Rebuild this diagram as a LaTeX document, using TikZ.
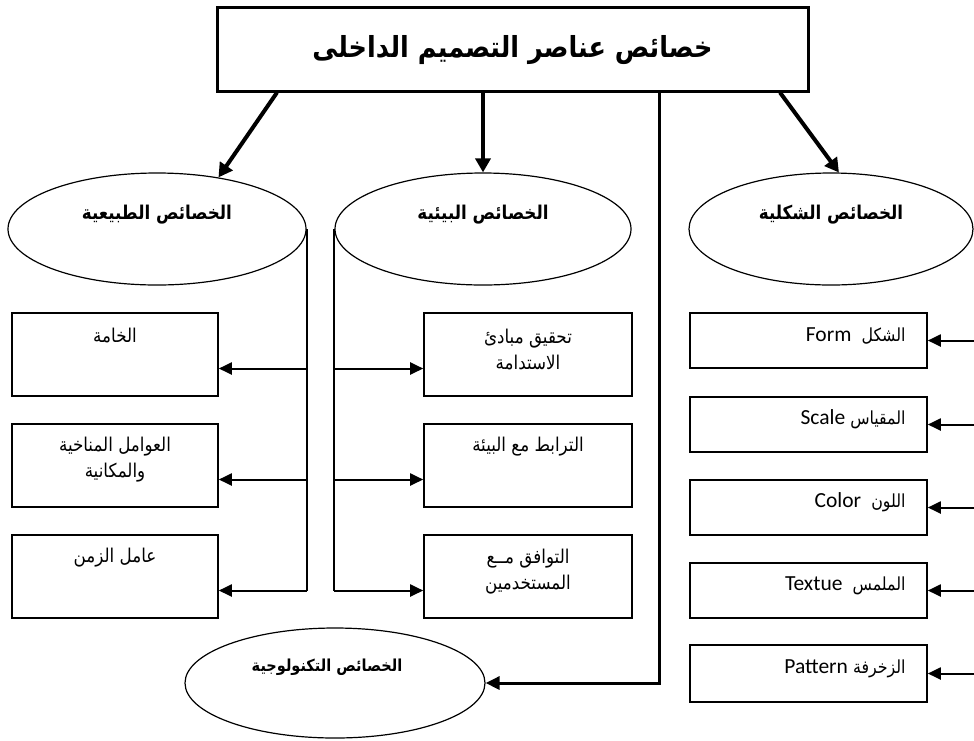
\documentclass[tikz,border=0pt]{standalone}
\usepackage{fontspec}
\usetikzlibrary{arrows.meta,shapes.geometric}
\TeXXeTstate=1
\newfontfamily\arfont[Script=Arabic,FakeStretch=0.88]{DejaVu Sans}
\newfontfamily\latfont{Carlito}
\begin{document}
\begin{tikzpicture}[x=1pt,y=-1pt,
  titlebox/.style={draw, line width=3pt, minimum width=591pt, minimum height=84pt, inner sep=0pt},
  oval/.style={draw, ellipse, line width=1.2pt, inner sep=0pt},
  itembox/.style={draw, line width=1.6pt, inner sep=0pt},
  artext/.style={font=\arfont\fontsize{19}{26}\selectfont, align=center, inner sep=0pt},
  rtext/.style={font=\arfont\fontsize{18}{20}\selectfont, inner sep=0pt, anchor=east},
  lat/.style={},
  ovaltext/.style={font=\arfont\bfseries\fontsize{19}{22}\selectfont, inner sep=0pt},
  bigarrow/.style={line width=4pt, -{Triangle[length=14pt,width=15pt]}},
  branch/.style={line width=2pt, -{Triangle[length=13pt,width=12pt]}},
  trunk/.style={line width=2pt},
  techline/.style={line width=3pt, -{Triangle[length=14pt,width=13pt]}},
]
\newcommand\latw[1]{{\latfont\fontsize{21.5}{22}\selectfont\beginL #1\endL}}
\useasboundingbox (0,0) rectangle (974,740);

% title
\node[titlebox] (T) at (512.5,49) {};
\node[font=\arfont\bfseries\fontsize{29}{32}\selectfont, inner sep=0pt] (Tt) at (512.5,50) {\beginR خصائص عناصر التصميم الداخلى\endR};

% ellipses
\node[oval, minimum width=298pt, minimum height=112pt] (E1) at (157,229) {};
\node[oval, minimum width=296pt, minimum height=112pt] (E2) at (483,229) {};
\node[oval, minimum width=284pt, minimum height=112pt] (E3) at (831,229) {};
\node[oval, minimum width=300pt, minimum height=110pt] (E4) at (335,683) {};
\node[ovaltext] (E1t) at (157,215) {\beginR الخصائص الطبيعية\endR};
\node[ovaltext] (E2t) at (483,215) {\beginR الخصائص البيئية\endR};
\node[ovaltext] (E3t) at (831,215) {\beginR الخصائص الشكلية\endR};
\node[ovaltext, font=\arfont\bfseries\fontsize{16.5}{18}\selectfont] (E4t) at (327,667) {\beginR الخصائص التكنولوجية\endR};

% arrows from title
\coordinate (s1) at ([xshift=-235.5pt]T.south);
\coordinate (s2) at ([xshift=-29.5pt]T.south);
\coordinate (s3) at ([xshift=146.5pt]T.south);
\coordinate (s4) at ([xshift=267.5pt]T.south);
\draw[bigarrow] (s1) -- (E1.40);
\draw[bigarrow] (s2) -- (E2.north);
\draw[bigarrow] (s4) -- (E3.82);
\draw[techline] (s3) |- (E4);

% left boxes
\node[itembox, minimum width=206pt, minimum height=83pt] (L1) at (115,354.5) {};
\node[itembox, minimum width=206pt, minimum height=83pt] (L2) at (115,465.5) {};
\node[itembox, minimum width=206pt, minimum height=83pt] (L3) at (115,576.5) {};
\node[artext] (L1t) at ([yshift=-23pt]L1.north) {\beginR الخامة\endR};
\node[artext] (L2t) at ([yshift=-36pt]L2.north) {\beginR العوامل المناخية\endR\\\beginR والمكانية\endR};
\node[artext] (L3t) at ([yshift=-23pt]L3.north) {\beginR عامل الزمن\endR};

% middle boxes
\node[itembox, minimum width=208pt, minimum height=83pt] (M1) at (528,354.5) {};
\node[itembox, minimum width=208pt, minimum height=83pt] (M2) at (528,465.5) {};
\node[itembox, minimum width=208pt, minimum height=83pt] (M3) at (528,576.5) {};
\node[artext] (M1t) at ([yshift=-37pt]M1.north) {\beginR تحقيق مبادئ\endR\\\beginR الاستدامة\endR};
\node[artext] (M2t) at ([yshift=-23pt]M2.north) {\beginR الترابط مع البيئة\endR};
\node[artext] (M3t) at ([yshift=-37pt]M3.north) {\beginR التوافق مــع\endR\\\beginR المستخدمين\endR};

% trunks and branches
\draw[trunk] (E1.east) -- ([yshift=-14pt]L3.east -| E1.east);
\draw[branch] ([yshift=-14pt]L1.east -| E1.east) -- ([yshift=-14pt]L1.east);
\draw[branch] ([yshift=-14pt]L2.east -| E1.east) -- ([yshift=-14pt]L2.east);
\draw[branch] ([yshift=-14pt]L3.east -| E1.east) -- ([yshift=-14pt]L3.east);

\draw[trunk] (E2.west) -- ([yshift=-14pt]M3.west -| E2.west);
\draw[branch] ([yshift=-14pt]M1.west -| E2.west) -- ([yshift=-14pt]M1.west);
\draw[branch] ([yshift=-14pt]M2.west -| E2.west) -- ([yshift=-14pt]M2.west);
\draw[branch] ([yshift=-14pt]M3.west -| E2.west) -- ([yshift=-14pt]M3.west);

% right boxes
\node[itembox, minimum width=237pt, minimum height=55pt] (R1) at (808.5,340.5) {};
\node[itembox, minimum width=237pt, minimum height=55pt] (R2) at (808.5,424.5) {};
\node[itembox, minimum width=237pt, minimum height=55pt] (R3) at (808.5,507.5) {};
\node[itembox, minimum width=237pt, minimum height=55pt] (R4) at (808.5,590.5) {};
\node[itembox, minimum width=237pt, minimum height=57pt] (R5) at (808.5,673.5) {};
\node[rtext] (R1t) at ([xshift=-22pt,yshift=5pt]R1.east) {\beginR الشكل\ \ \latw{Form}\endR};
\node[rtext] (R2t) at ([xshift=-22pt,yshift=5pt]R2.east) {\beginR المقياس\ \latw{Scale}\endR};
\node[rtext] (R3t) at ([xshift=-22pt,yshift=5pt]R3.east) {\beginR اللون\ \ \latw{Color}\endR};
\node[rtext] (R4t) at ([xshift=-22pt,yshift=5pt]R4.east) {\beginR الملمس\ \ \latw{Textue}\endR};
\node[rtext] (R5t) at ([xshift=-22pt,yshift=5pt]R5.east) {\beginR الزخرفة\ \latw{Pattern}\endR};

\coordinate (edge) at (974,0);
\draw[branch] (R1.east -| edge) -- (R1.east);
\draw[branch] (R2.east -| edge) -- (R2.east);
\draw[branch] (R3.east -| edge) -- (R3.east);
\draw[branch] (R4.east -| edge) -- (R4.east);
\draw[branch] (R5.east -| edge) -- (R5.east);
\end{tikzpicture}
\end{document}
